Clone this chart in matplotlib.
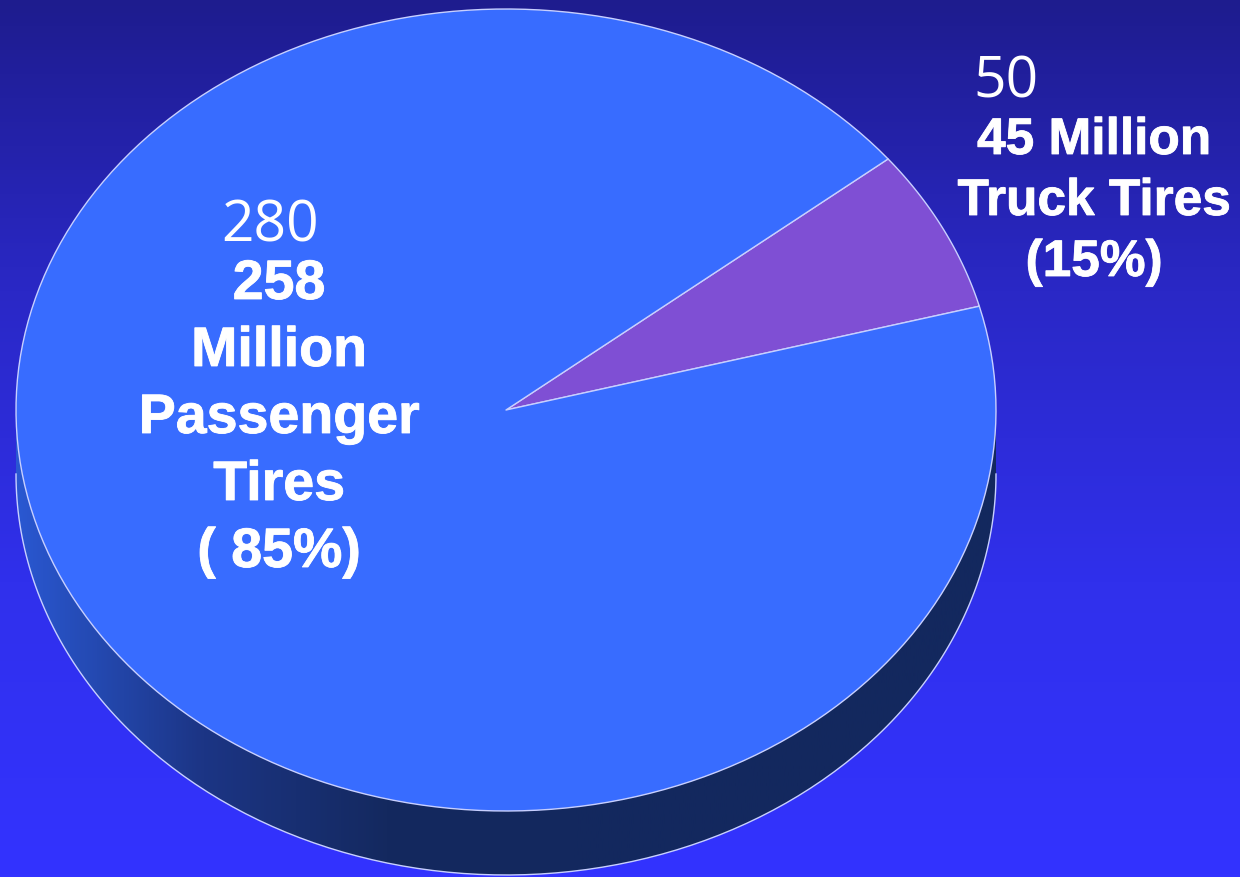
import numpy as np
import matplotlib
matplotlib.use('Agg')
import matplotlib.pyplot as plt
import matplotlib.patheffects as pe
from matplotlib.colors import LinearSegmentedColormap
from matplotlib.patches import Polygon

# slice data (shares)
categories = ['Truck Tires', 'Passenger Tires']
shares = [6.6, 93.4]
start_angle = 15.0
slice_colors = ['#7f4fd4', '#386cff']

# label texts
big_numbers = ['50', '280']
truck_lines = ['45 Million', 'Truck Tires', '(15%)']
passenger_lines = ['258', 'Million', 'Passenger', 'Tires', '( 85%)']

W, H = 1240, 878


def ellipse_pts(cx, cy, rx, ry, t0, t1, n=200):
    t = np.radians(np.linspace(t0, t1, n))
    return np.column_stack([cx + rx * np.cos(t), cy - ry * np.sin(t)])


def main():
    fig = plt.figure(figsize=(W / 100, H / 100), dpi=100)
    ax = fig.add_axes([0, 0, 1, 1])
    ax.set_xlim(0, W)
    ax.set_ylim(H, 0)
    ax.axis('off')

    # background gradient, dark navy at top to bright blue at bottom
    bg = LinearSegmentedColormap.from_list('bg', ['#1e1c8e', '#2a28c6', '#3030ec', '#3333ff'])
    grad = np.linspace(0, 1, 256).reshape(-1, 1)
    ax.imshow(grad, cmap=bg, extent=[0, W, H, 0], aspect='auto', zorder=0)

    cx, cy, rx, ry, depth = 506, 411, 490, 401, 64
    edge = '#c8d0ff'

    # side wall of the pie (front half)
    top_arc = ellipse_pts(cx, cy, rx, ry, 180, 360)
    bot_arc = top_arc[::-1] + [0, depth]
    side = Polygon(np.vstack([top_arc, bot_arc]), closed=True, facecolor='none',
                   edgecolor='none', zorder=1)
    ax.add_patch(side)
    side_cmap = LinearSegmentedColormap.from_list('side', ['#2a58d2', '#1c3585', '#14295f', '#13285e'])
    xs = np.clip((np.linspace(0, W, 600) - 15) / 560, 0, 1).reshape(1, -1)
    im = ax.imshow(xs, cmap=side_cmap, extent=[0, W, H, 0], aspect='auto', zorder=1)
    im.set_clip_path(side)
    ax.plot(bot_arc[:, 0], bot_arc[:, 1], color=edge, lw=1, zorder=2)

    # top face slices
    a0 = start_angle
    for share, col in zip(shares, slice_colors):
        a1 = a0 + share / sum(shares) * 360
        pts = np.vstack([[cx, cy], ellipse_pts(cx, cy, rx, ry, a0, a1)])
        ax.add_patch(Polygon(pts, closed=True, facecolor=col, edgecolor=edge,
                             lw=1, joinstyle='round', zorder=3))
        a0 = a1

    # labels
    thick = [pe.withStroke(linewidth=0.6, foreground='white')]
    bold = dict(family='Liberation Sans', weight='bold', color='white',
                ha='center', va='baseline', zorder=5, path_effects=thick)
    for i, line in enumerate(truck_lines):
        ax.text(1094, 155 + i * 61, line, fontsize=37, **bold)
    for i, line in enumerate(passenger_lines):
        ax.text(279, 300 + i * 67, line, fontsize=40, **bold)

    reg = dict(family='Open Sans', color='white', ha='center', va='baseline', zorder=5)
    ax.text(1006, 97, big_numbers[0], fontsize=41, **reg)
    ax.text(270, 242, big_numbers[1], fontsize=41, **reg)

    fig.savefig('out.png', dpi=100)


if __name__ == '__main__':
    main()
